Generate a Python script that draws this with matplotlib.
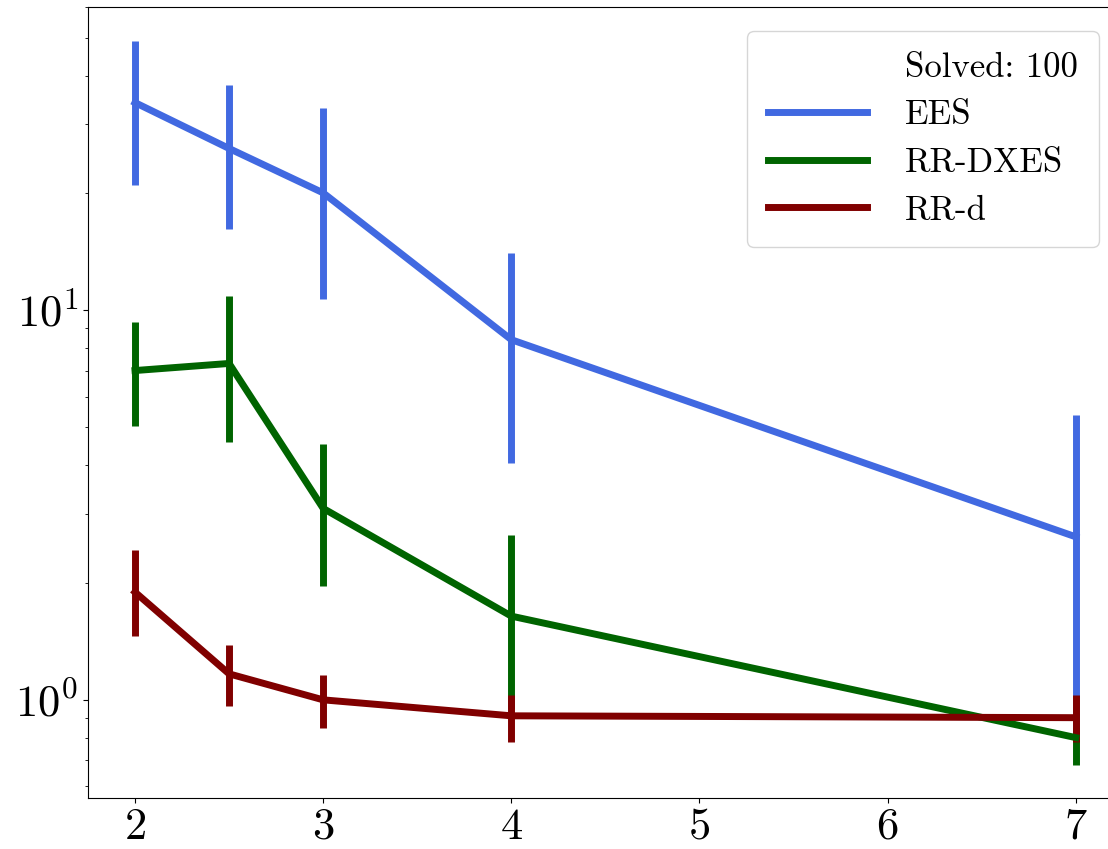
import matplotlib
matplotlib.use("Agg")
import matplotlib.pyplot as plt
from matplotlib.lines import Line2D
import numpy as np

plt.rcParams['font.family'] = 'cmr10'
plt.rcParams['mathtext.fontset'] = 'cm'
plt.rcParams['axes.unicode_minus'] = False
plt.rcParams['axes.formatter.use_mathtext'] = True

# valeurs (moyenne, borne basse, borne haute)
x = [2, 2.5, 3, 4, 7]

ees_mid = [34.1, 26.0, 20.0, 8.4, 2.62]
ees_lo = [20.9, 16.2, 10.7, 4.05, 0.85]
ees_hi = [49.2, 37.8, 33.0, 14.0, 5.38]

dxes_mid = [7.0, 7.3, 3.1, 1.64, 0.80]
dxes_lo = [5.04, 4.59, 1.96, 0.95, 0.68]
dxes_hi = [9.3, 10.9, 4.53, 2.65, 0.85]

rrd_mid = [1.89, 1.166, 1.0, 0.91, 0.90]
rrd_lo = [1.46, 0.966, 0.848, 0.78, 0.78]
rrd_hi = [2.42, 1.38, 1.16, 1.03, 1.03]

series = [
    ("EES", ees_mid, ees_lo, ees_hi, "royalblue"),
    ("RR-DXES", dxes_mid, dxes_lo, dxes_hi, "darkgreen"),
    ("RR-d", rrd_mid, rrd_lo, rrd_hi, "maroon"),
]

fig = plt.figure(figsize=(11.08, 8.49), dpi=100)
ax = fig.add_axes([0.0794, 0.0601, 0.934, 0.9317])

handles = [Line2D([], [], color='none', label='Solved: 100')]
for name, mid, lo, hi, col in series:
    mid = np.array(mid)
    err = [mid - np.array(lo), np.array(hi) - mid]
    ax.errorbar(x, mid, yerr=err, color=col, lw=5, elinewidth=5, capsize=0)
    handles.append(Line2D([], [], color=col, lw=5, label=name))

ax.set_yscale('log')
ax.set_xlim(1.75, 7.25)
ax.set_ylim(0.56, 60)
ax.tick_params(axis='both', which='major', labelsize=32)

leg = ax.legend(handles=handles, loc='upper right', fontsize=25,
                handlelength=2.85, handletextpad=1.1, borderpad=0.6,
                labelspacing=0.46, borderaxespad=0.7)

fig.savefig("out.png", dpi=100)
